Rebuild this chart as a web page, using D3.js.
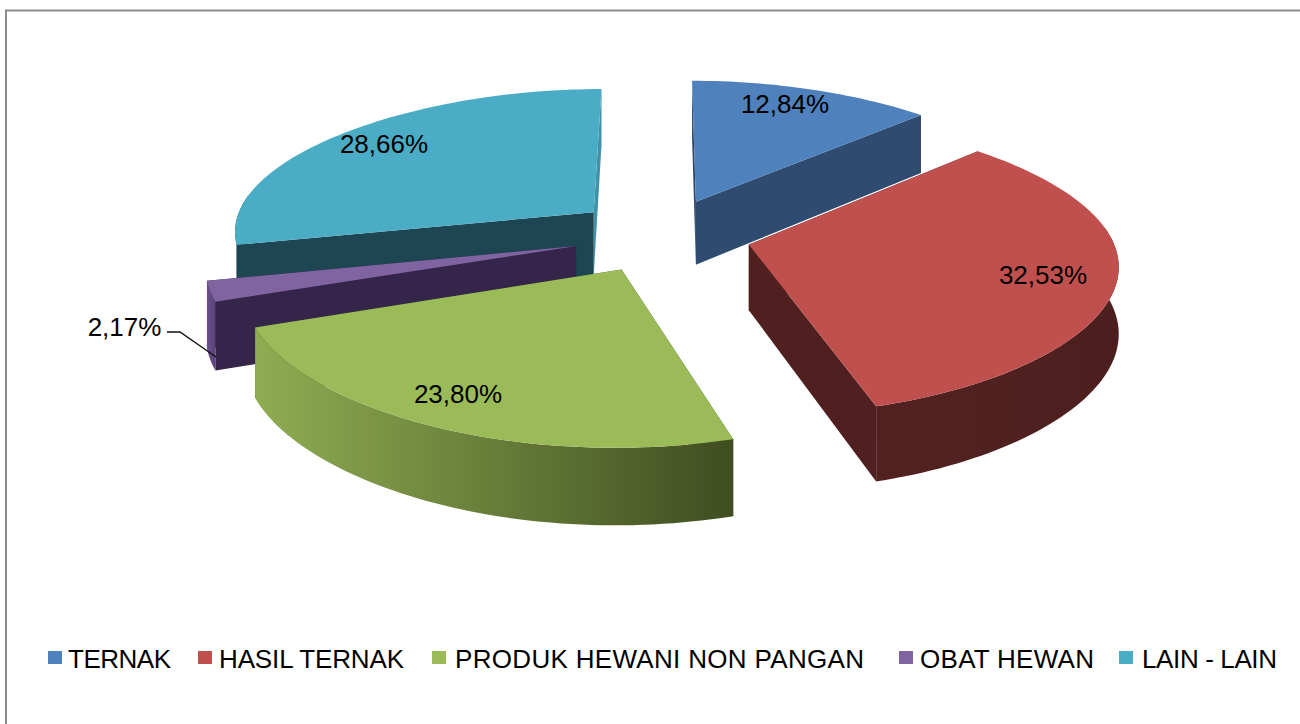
<!doctype html>
<html lang="en">
<head>
<meta charset="UTF-8" />
<title>Pie</title>
<script src="https://cdn.jsdelivr.net/npm/d3@7"></script>
<style>
  html, body { margin: 0; padding: 0; background: #fff; }
  svg { display: block; }
  text { font-family: "Liberation Sans", Arial, sans-serif; fill: #000; }
</style>
</head>
<body>
<div id="chart"></div>
<script>
const categories = ["TERNAK", "HASIL TERNAK", "PRODUK HEWANI NON PANGAN", "OBAT HEWAN", "LAIN - LAIN"];
const shares = [12.84, 32.53, 23.80, 2.17, 28.66];
const topColors = ["#4f81bd", "#c0504d", "#9bbb59", "#8064a2", "#4bacc6"];
const startCut = ["#2a4568", "#4f201f", "#3f4d24", "#35254a", "#1d4652"];
const endCut = ["#2f4b70", "#4f201f", "#3f4d24", "#35254a", "#3f93a8"];
const wallLight = ["#3f6a9e", "#522220", "#8fad52", "#6b4f8c", "#1d4652"];
const wallDark = ["#2f4b70", "#4c1f1e", "#3f4d20", "#5a4278", "#1d4652"];
const swatchX = [48, 198, 432, 899, 1119];
const legendX = [68, 219, 455, 920, 1142];
const legendW = [103, 185, 409, 174, 135];

const width = 1300, height = 724;
const cx = 662, cy = 235;       // pie centre on the screen
const radius = 345;
const stretch = 0.05;           // pie bulges a bit at its sides
const explode = 89;
const persp = 0.00038;          // how fast things grow toward the viewer
const tilt = 0.42;
const depth = 65;

const svg = d3.select("#chart").append("svg").attr("width", width).attr("height", height);
const defs = svg.append("defs");

svg.append("path")
  .attr("d", `M6,724V10.5H1300`)
  .attr("fill", "none").attr("stroke", "#8c8c8c").attr("stroke-width", 2);

const pie = d3.pie().sort(null).value(d => d)(shares);

// ground plane to screen, drop = how far below the top face
function project(px, pz, drop = 0) {
  const w = 1 / (1 - persp * pz);
  return [cx + px * w, cy + (pz * tilt + drop) * w];
}
const line = d3.line();

const slices = pie.map((d, i) => {
  const mid = (d.startAngle + d.endAngle) / 2;
  const ox = Math.sin(mid) * explode, oz = -Math.cos(mid) * explode;
  const n = Math.max(4, Math.round((d.endAngle - d.startAngle) * 40));
  const angles = d3.range(n + 1).map(k => d.startAngle + (d.endAngle - d.startAngle) * k / n);
  const rim = angles.map(a => {
    const sx = Math.sin(a);
    return [ox + sx * radius * (1 + stretch * sx * sx), oz - Math.cos(a) * radius];
  });
  return { i, ox, oz, mid, rim, value: d.data };
});

function wedge(s) {
  const g = svg.append("g");
  const i = s.i;
  const apex = [s.ox, s.oz];
  const first = s.rim[0], last = s.rim[s.rim.length - 1];
  const quad = (a, b) => [project(a[0], a[1]), project(b[0], b[1]), project(b[0], b[1], depth), project(a[0], a[1], depth)];

  // cut faces
  g.append("path").attr("d", line(quad(apex, last)) + "Z").attr("fill", endCut[i]);
  g.append("path").attr("d", line(quad(apex, first)) + "Z").attr("fill", startCut[i]);

  // outer wall, only the part facing the viewer
  const front = s.rim.filter(p => p[1] - s.oz > -radius * 0.14);
  if (front.length > 1) {
    const up = front.map(p => project(p[0], p[1]));
    const down = front.map(p => project(p[0], p[1], depth)).reverse();
    const xs = up.map(p => p[0]);
    const grad = defs.append("linearGradient").attr("id", "wall" + i)
      .attr("gradientUnits", "userSpaceOnUse")
      .attr("x1", d3.min(xs)).attr("x2", d3.max(xs)).attr("y1", 0).attr("y2", 0);
    grad.append("stop").attr("offset", 0).attr("stop-color", wallLight[i]);
    grad.append("stop").attr("offset", 1).attr("stop-color", wallDark[i]);
    g.append("path").attr("d", line(up.concat(down)) + "Z").attr("fill", `url(#wall${i})`);
  }

  // top face
  const top = [project(apex[0], apex[1])].concat(s.rim.map(p => project(p[0], p[1])));
  g.append("path").attr("d", line(top) + "Z").attr("fill", topColors[i]);
}

// back slices first
[0, 4, 3, 2, 1].forEach(i => wedge(slices[i]));

// value labels, read from the shares
const fmt = v => v.toFixed(2).replace(".", ",") + "%";
const labelAt = [[785, 104], [1043, 275], [458, 394], [124.5, 327], [384, 144]];
shares.forEach((v, i) => {
  svg.append("text").attr("x", labelAt[i][0]).attr("y", labelAt[i][1])
    .attr("dy", "0.35em").attr("text-anchor", "middle").attr("font-size", 26)
    .text(fmt(v));
});

// leader for the small slice
svg.append("path").attr("d", line([[167, 332], [180, 332], [216, 357]]))
  .attr("fill", "none").attr("stroke", "#111").attr("stroke-width", 1.4);

// legend
const legend = svg.append("g");
categories.forEach((c, i) => {
  legend.append("rect").attr("x", swatchX[i]).attr("y", 651).attr("width", 14).attr("height", 13).attr("fill", topColors[i]);
  legend.append("text").attr("x", legendX[i]).attr("y", 668).attr("font-size", 26)
    .attr("textLength", legendW[i]).text(c);
});
</script>
</body>
</html>
